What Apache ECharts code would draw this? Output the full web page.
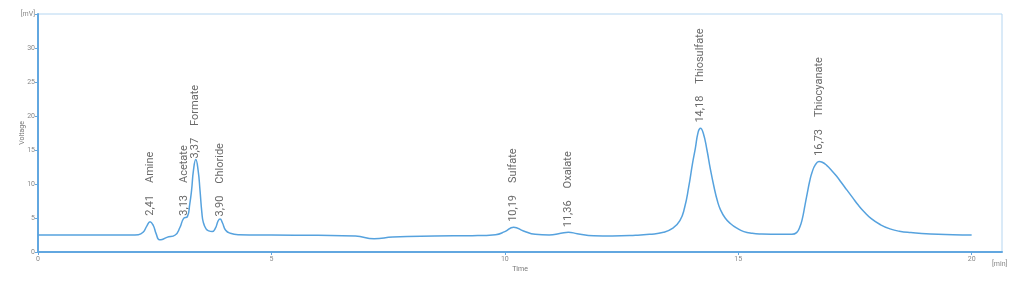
<!DOCTYPE html>
<html>
<head>
<meta charset="utf-8">
<script src="https://cdn.jsdelivr.net/npm/echarts@6/dist/echarts.min.js"></script>
<style>html,body{margin:0;padding:0;background:#fff}#c{width:1024px;height:282px}</style>
</head>
<body>
<div id="c"></div>
<script>
// Chromatogram trace: [time (min), voltage (mV)]
var trace = [
  [0, 2.5], [1.0, 2.5], [2.0, 2.5], [2.15, 2.55], [2.25, 2.9], [2.33, 3.8], [2.40, 4.45],
  [2.47, 3.9], [2.53, 2.7], [2.60, 1.8], [2.66, 1.85], [2.76, 2.15], [2.94, 2.5],
  [3.04, 3.6], [3.12, 4.95], [3.20, 5.2], [3.25, 7.0], [3.29, 9.1], [3.33, 12.0],
  [3.38, 13.6], [3.43, 12.0], [3.47, 9.1], [3.51, 5.8], [3.54, 4.4], [3.60, 3.4],
  [3.66, 3.1], [3.73, 3.0], [3.80, 3.5], [3.86, 4.6], [3.90, 4.85], [3.95, 4.3],
  [4.02, 3.2], [4.12, 2.75], [4.3, 2.55], [5.0, 2.5], [6.0, 2.45], [6.8, 2.35],
  [7.2, 1.95], [7.6, 2.2], [8.5, 2.35], [9.3, 2.4], [9.8, 2.55], [10.0, 3.0],
  [10.19, 3.65], [10.4, 3.1], [10.65, 2.6], [10.95, 2.5], [11.2, 2.75], [11.36, 2.9],
  [11.55, 2.7], [11.9, 2.4], [12.3, 2.35], [12.8, 2.45], [13.1, 2.6], [13.4, 2.9],
  [13.6, 3.5], [13.75, 4.6], [13.85, 6.5], [13.94, 9.6], [14.02, 13.0], [14.08, 15.2],
  [14.14, 17.6], [14.19, 18.2], [14.25, 17.5], [14.33, 15.0], [14.40, 12.3], [14.48, 9.6],
  [14.55, 7.6], [14.62, 6.2], [14.72, 5.0], [14.83, 4.2], [14.97, 3.5], [15.12, 3.0],
  [15.3, 2.75], [15.5, 2.65], [15.9, 2.6], [16.15, 2.6], [16.25, 2.85], [16.32, 3.7],
  [16.37, 4.8], [16.43, 6.9], [16.48, 8.7], [16.53, 10.4], [16.58, 11.7], [16.65, 12.8],
  [16.73, 13.3], [16.8, 13.2], [16.9, 12.7], [17.0, 12.0], [17.1, 11.2], [17.2, 10.3],
  [17.33, 9.1], [17.45, 8.0], [17.57, 6.9], [17.69, 5.95], [17.85, 4.9], [18.05, 4.0],
  [18.25, 3.4], [18.45, 3.05], [18.7, 2.85], [19.12, 2.65], [19.6, 2.55], [20.0, 2.5]
];

// Peak annotations
var peakNames = ['Amine', 'Acetate', 'Formate', 'Chloride', 'Sulfate', 'Oxalate', 'Thiosulfate', 'Thiocyanate'];
var peakTimes = [2.41, 3.13, 3.37, 3.90, 10.19, 11.36, 14.18, 16.73];
var peakHeights = [4.6, 4.6, 13.0, 4.5, 3.7, 2.9, 18.3, 13.4];

// Axis ticks
var xTicks = [0, 5, 10, 15, 20];

var peakData = peakTimes.map(function (t, i) {
  return { value: [t, peakHeights[i]], name: peakNames[i], time: t.toFixed(2).replace('.', ',') };
});

var chart = echarts.init(document.getElementById('c'), null, { renderer: 'canvas' });
var axisBlue = '#62a7e0';
chart.setOption({
  animation: false,
  textStyle: { fontFamily: 'Roboto, sans-serif' },
  grid: { left: 38, right: 22, top: 14, bottom: 30, show: true, borderColor: '#b5d6f1', borderWidth: 1,
          containLabel: false, outerBoundsMode: 'none' },
  xAxis: {
    type: 'value', min: 0, max: 20.65, interval: 5,
    name: 'Time', nameLocation: 'middle', nameGap: 14, nameMoveOverlap: false,
    nameTextStyle: { fontSize: 7, color: '#777' },
    axisLine: { show: true, lineStyle: { color: axisBlue, width: 2 } },
    axisTick: { show: true, length: 3, customValues: xTicks, lineStyle: { color: axisBlue } },
    axisLabel: { customValues: xTicks, fontSize: 7, color: '#888', margin: 4 },
    splitLine: { show: false }
  },
  yAxis: {
    type: 'value', min: 0, max: 35, interval: 5,
    name: 'Voltage', nameLocation: 'middle', nameGap: 12, nameMoveOverlap: false,
    nameTextStyle: { fontSize: 7, color: '#777' },
    axisLine: { show: true, lineStyle: { color: axisBlue, width: 2 } },
    axisTick: { show: true, length: 3, lineStyle: { color: axisBlue } },
    axisLabel: { fontSize: 7, color: '#888', margin: 3, formatter: function (v) { return v === 35 ? '[mV]' : String(v); } },
    splitLine: { show: false }
  },
  graphic: [{
    type: 'text', left: 992, top: 261,
    style: { text: '[min]', fontSize: 7, fill: '#888', fontFamily: 'Roboto, sans-serif' }
  }],
  series: [{
    type: 'line', data: trace, showSymbol: false, smooth: 0.5,
    lineStyle: { color: '#56a2de', width: 1.5 }, z: 3
  }, {
    type: 'scatter', data: peakData, symbolSize: 0, silent: true,
    label: {
      show: true, position: 'top', distance: 5, rotate: 90, align: 'left', verticalAlign: 'middle',
      formatter: function (p) { return '{a|' + p.data.time + '}{b|' + p.data.name + '}'; },
      rich: {
        a: { fontSize: 11, color: '#444', fontFamily: 'Roboto, sans-serif' },
        b: { fontSize: 11, color: '#444', fontFamily: 'Roboto, sans-serif', padding: [0, 0, 0, 12] }
      }
    }
  }]
});
</script>
</body>
</html>
